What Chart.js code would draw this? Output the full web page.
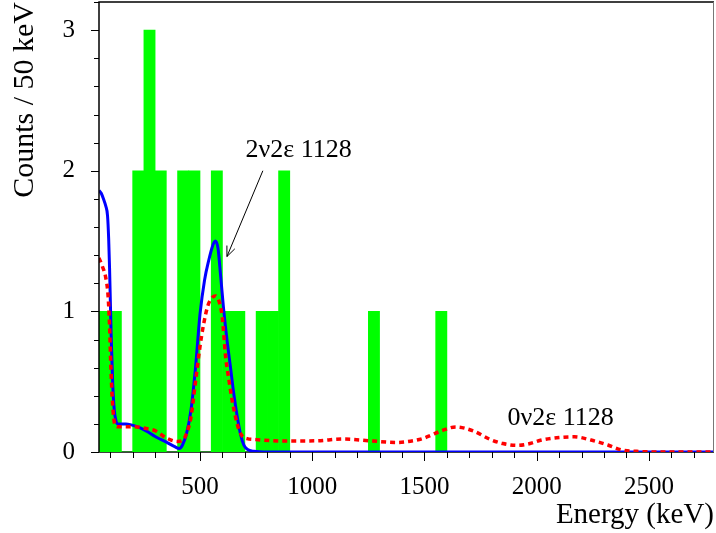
<!DOCTYPE html>
<html>
<head>
<meta charset="utf-8">
<script src="https://cdn.jsdelivr.net/npm/chart.js@4.4.1/dist/chart.umd.min.js"></script>
<style>
  html, body { margin: 0; padding: 0; background: #fff; }
  canvas { display: block; }
</style>
</head>
<body>
<canvas id="spectrum" width="716" height="533"></canvas>
<script>
// histogram: 50 keV bins starting at 50 keV
const binStart = 50;
const binWidth = 50;
const binCounts = [1, 1, 0, 2, 3, 2, 0, 2, 2, 0, 2, 1, 1, 0, 1, 1, 2,
  0, 0, 0, 0, 0, 0, 0, 1, 0, 0, 0, 0, 0, 1];

// 2v2e fit (blue) [keV, counts]
const fit2nu = [
  [50, 1.86], [60, 1.84], [72, 1.79], [80, 1.75], [88, 1.68], [93, 1.52], [97, 1.31],
  [104, 0.84], [111, 0.49], [118, 0.3], [126, 0.22], [135, 0.2], [170, 0.2], [220, 0.18],
  [260, 0.15], [300, 0.11], [350, 0.07], [385, 0.04], [408, 0.025], [422, 0.05],
  [440, 0.13], [460, 0.3], [480, 0.6], [500, 0.98], [520, 1.22], [540, 1.37], [555, 1.46],
  [568, 1.5], [580, 1.45], [592, 1.25], [605, 1.02], [620, 0.8], [636, 0.6], [650, 0.42],
  [666, 0.25], [680, 0.13], [695, 0.05], [710, 0.02], [740, 0.005], [800, 0], [2790, 0]
];

// 0v2e fit (red dotted) [keV, counts]
const fit0nu = [
  [50, 1.38], [65, 1.32], [80, 1.24], [90, 1.12], [97, 0.9], [103, 0.6], [109, 0.38],
  [115, 0.25], [122, 0.19], [135, 0.18], [200, 0.18], [250, 0.17], [302, 0.15], [350, 0.1],
  [400, 0.075], [420, 0.08], [440, 0.13], [460, 0.25], [480, 0.5], [500, 0.75], [515, 0.9],
  [535, 1.04], [555, 1.1], [569, 1.11], [585, 1.07], [599, 0.96], [614, 0.68], [630, 0.5],
  [643, 0.37], [658, 0.25], [673, 0.16], [690, 0.11], [710, 0.095], [750, 0.088],
  [870, 0.078], [1020, 0.08], [1136, 0.092], [1270, 0.078], [1375, 0.068], [1450, 0.08],
  [1495, 0.097], [1530, 0.12], [1567, 0.145], [1640, 0.178], [1717, 0.15], [1792, 0.09],
  [1850, 0.06], [1912, 0.047], [1970, 0.06], [2017, 0.083], [2100, 0.103], [2167, 0.108],
  [2242, 0.085], [2317, 0.05], [2377, 0.016], [2466, 0.003], [2550, 0], [2790, 0]
];

const xMin = 50, xMax = 2790, yMin = 0, yMax = 3.2;

const serif = '"Liberation Serif", "Times New Roman", serif';

const histData = binCounts.map((c, i) => ({ x: binStart + binWidth * (i + 0.5), y: c }));
const toXY = arr => arr.map(p => ({ x: p[0], y: p[1] }));

// bottom axis goes under the curves, the rest of the frame over them
const axisUnder = {
  id: 'axisUnder',
  beforeDatasetsDraw(chart) {
    const { ctx, chartArea: a } = chart;
    ctx.save();
    ctx.strokeStyle = '#000';
    ctx.lineWidth = 1.5;
    ctx.beginPath();
    ctx.moveTo(a.left, a.bottom);
    ctx.lineTo(a.right, a.bottom);
    ctx.stroke();
    ctx.restore();
  }
};

const decorations = {
  id: 'decorations',
  afterDraw(chart) {
    const { ctx, chartArea: a, scales: { x, y } } = chart;
    ctx.save();
    ctx.strokeStyle = '#000';
    ctx.lineWidth = 1.5;
    ctx.beginPath();
    ctx.moveTo(a.left, a.bottom);
    ctx.lineTo(a.left, a.top);
    ctx.lineTo(a.right, a.top);
    ctx.stroke();
    ctx.strokeStyle = '#777';
    ctx.lineWidth = 1;
    ctx.beginPath();
    ctx.moveTo(a.right - 0.5, a.top);
    ctx.lineTo(a.right - 0.5, a.bottom);
    ctx.stroke();

    // tick marks, major longer
    ctx.strokeStyle = '#000';
    ctx.lineWidth = 1;
    ctx.beginPath();
    x.ticks.forEach(t => {
      const px = Math.round(x.getPixelForValue(t.value)) + 0.5;
      const len = t.value % 500 === 0 ? 9 : 6;
      ctx.moveTo(px, a.bottom);
      ctx.lineTo(px, a.bottom + len);
    });
    y.ticks.forEach(t => {
      const py = Math.round(y.getPixelForValue(t.value)) + 0.5;
      const major = Math.abs(t.value - Math.round(t.value)) < 1e-6;
      ctx.moveTo(a.left, py);
      ctx.lineTo(a.left - (major ? 8 : 5), py);
    });
    ctx.stroke();

    // labels
    ctx.fillStyle = '#000';
    ctx.font = '26px ' + serif;
    ctx.textAlign = 'left';
    ctx.textBaseline = 'alphabetic';
    ctx.fillText('2ν2ε 1128', x.getPixelForValue(703), y.getPixelForValue(2.1));
    ctx.fillText('0ν2ε 1128', x.getPixelForValue(1870), y.getPixelForValue(0.195));

    // arrow
    const x0 = x.getPixelForValue(780), y0 = y.getPixelForValue(2.0);
    const x1 = x.getPixelForValue(620), y1 = y.getPixelForValue(1.39);
    const ang = Math.atan2(y1 - y0, x1 - x0);
    const head = 11, spread = 0.4;
    ctx.lineWidth = 1;
    ctx.beginPath();
    ctx.moveTo(x0, y0);
    ctx.lineTo(x1, y1);
    ctx.moveTo(x1 - head * Math.cos(ang - spread), y1 - head * Math.sin(ang - spread));
    ctx.lineTo(x1, y1);
    ctx.lineTo(x1 - head * Math.cos(ang + spread), y1 - head * Math.sin(ang + spread));
    ctx.stroke();
    ctx.restore();
  }
};

new Chart(document.getElementById('spectrum').getContext('2d'), {
  type: 'bar',
  data: {
    datasets: [
      {
        type: 'line',
        label: '0v2e',
        data: toXY(fit0nu),
        borderColor: '#ff0000',
        borderWidth: 3.5,
        borderDash: [5, 4],
        pointRadius: 0,
        cubicInterpolationMode: 'monotone',
        order: 0,
      },
      {
        type: 'line',
        label: '2v2e',
        data: toXY(fit2nu),
        borderColor: '#0000ff',
        borderWidth: 3,
        pointRadius: 0,
        cubicInterpolationMode: 'monotone',
        order: 1,
      },
      {
        label: 'data',
        data: histData,
        backgroundColor: '#00ff00',
        borderWidth: 0,
        barPercentage: 1,
        categoryPercentage: 1,
        grouped: false,
        order: 2,
      },
    ],
  },
  options: {
    responsive: false,
    animation: false,
    layout: { padding: { top: 2, right: 2, left: 0, bottom: 0 } },
    plugins: {
      legend: { display: false },
      tooltip: { enabled: false },
    },
    scales: {
      x: {
        type: 'linear',
        offset: false,
        min: xMin,
        max: xMax,
        grid: { display: false, drawTicks: false },
        border: { display: false },
        ticks: {
          stepSize: 100,
          includeBounds: false,
          autoSkip: false,
          maxRotation: 0,
          padding: 20,
          color: '#000',
          font: { family: serif, size: 25 },
          callback: v => (v % 500 === 0 ? String(v) : ''),
        },
        title: {
          display: true,
          text: 'Energy (keV)',
          align: 'end',
          color: '#000',
          font: { family: serif, size: 29 },
          padding: { top: 0, bottom: 0 },
        },
        afterFit: s => { s.height = 81; s.paddingLeft = 0; s.paddingRight = 0; },
      },
      y: {
        min: yMin,
        max: yMax,
        grid: { display: false, drawTicks: false },
        border: { display: false },
        ticks: {
          stepSize: 0.2,
          autoSkip: false,
          padding: 24,
          color: '#000',
          font: { family: serif, size: 25 },
          callback: v => (Math.abs(v - Math.round(v)) < 1e-6 ? String(Math.round(v)) : ''),
        },
        title: {
          display: true,
          text: 'Counts / 50 keV',
          align: 'end',
          color: '#000',
          font: { family: serif, size: 30 },
          padding: { top: 7, bottom: 0 },
        },
        afterFit: s => { s.width = 99; s.paddingTop = 0; s.paddingBottom = 0; },
      },
    },
  },
  plugins: [axisUnder, decorations],
});
</script>
</body>
</html>
